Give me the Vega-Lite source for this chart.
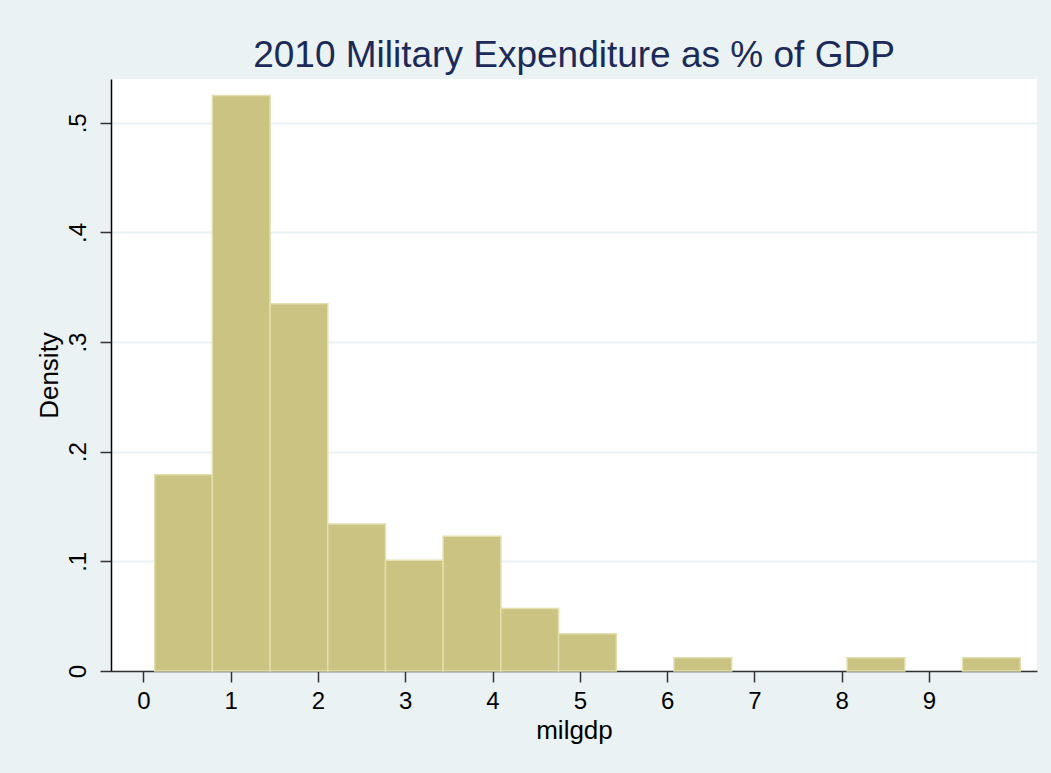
{
  "$schema": "https://vega.github.io/schema/vega-lite/v6.json",
  "width": 926,
  "height": 592,
  "autosize": {"type": "none"},
  "padding": {"left": 111, "top": 79, "right": 14, "bottom": 102},
  "background": "#EAF2F3",
  "config": {
    "view": {"fill": "#FFFFFF", "stroke": null},
    "font": "Liberation Sans"
  },
  "title": {
    "text": "2010 Military Expenditure as % of GDP",
    "fontSize": 37,
    "fontWeight": "normal",
    "color": "#1C2A5A",
    "anchor": "middle",
    "baseline": "alphabetic",
    "offset": -25,
    "font": "Liberation Sans"
  },
  "data": {
    "values": [
      {"bin_start": 0.13, "bin_end": 0.791, "density": 0.179},
      {"bin_start": 0.791, "bin_end": 1.452, "density": 0.525},
      {"bin_start": 1.452, "bin_end": 2.113, "density": 0.335},
      {"bin_start": 2.113, "bin_end": 2.774, "density": 0.134},
      {"bin_start": 2.774, "bin_end": 3.435, "density": 0.101},
      {"bin_start": 3.435, "bin_end": 4.096, "density": 0.123},
      {"bin_start": 4.096, "bin_end": 4.757, "density": 0.057},
      {"bin_start": 4.757, "bin_end": 5.418, "density": 0.034},
      {"bin_start": 6.079, "bin_end": 6.74, "density": 0.012},
      {"bin_start": 8.062, "bin_end": 8.723, "density": 0.012},
      {"bin_start": 9.384, "bin_end": 10.045, "density": 0.012}
    ]
  },
  "mark": {"type": "bar", "fill": "#CAC382", "stroke": "#E2DEAE", "strokeWidth": 1.5},
  "encoding": {
    "x": {
      "field": "bin_start",
      "type": "quantitative",
      "scale": {"domain": [-0.37, 10.237], "nice": false, "zero": false},
      "axis": {
        "title": "milgdp",
        "values": [0, 1, 2, 3, 4, 5, 6, 7, 8, 9],
        "grid": false,
        "domainColor": "#333333",
        "domainWidth": 1.5,
        "tickColor": "#333333",
        "tickSize": 11,
        "tickWidth": 1.5,
        "labelFontSize": 24,
        "labelColor": "#000000",
        "labelPadding": 7,
        "titleFontSize": 26,
        "titleFontWeight": "normal",
        "titleColor": "#000000",
        "titlePadding": 4,
        "labelFont": "Liberation Sans",
        "titleFont": "Liberation Sans"
      }
    },
    "x2": {"field": "bin_end"},
    "y": {
      "field": "density",
      "type": "quantitative",
      "scale": {"domain": [0, 0.54], "nice": false},
      "axis": {
        "title": "Density",
        "values": [0, 0.1, 0.2, 0.3, 0.4, 0.5],
        "labelExpr": "datum.value == 0 ? '0' : replace(format(datum.value, '.1f'), '0.', '.')",
        "labelAngle": 270,
        "labelAlign": "center",
        "labelBaseline": "bottom",
        "grid": true,
        "gridColor": "#EAF2F3",
        "gridWidth": 2,
        "domainColor": "#000000",
        "domainWidth": 1.5,
        "tickColor": "#333333",
        "tickSize": 11,
        "tickWidth": 1.5,
        "labelFontSize": 24,
        "labelColor": "#000000",
        "labelPadding": 10,
        "titleFontSize": 26,
        "titleFontWeight": "normal",
        "titleColor": "#000000",
        "titlePadding": 4,
        "labelFont": "Liberation Sans",
        "titleFont": "Liberation Sans"
      }
    },
    "y2": {"datum": 0}
  }
}
